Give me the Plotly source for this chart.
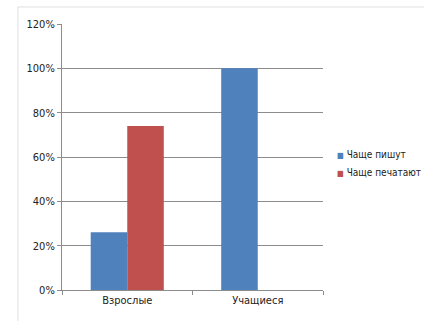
import plotly.graph_objects as go

categories = ["Взрослые", "Учащиеся"]
write_share = [26, 100]
type_share = [74, 0]
series_names = ["Чаще пишут", "Чаще печатают"]
series_colors = ["#4F81BD", "#C0504D"]
y_ticks = [0, 20, 40, 60, 80, 100, 120]
y_labels = [str(v) + "%" for v in y_ticks]

font_name = "DejaVu Sans Condensed, Liberation Sans Narrow, Liberation Sans, sans-serif"

fig = go.Figure()
for vals, name, col in zip([write_share, type_share], series_names, series_colors):
    fig.add_trace(go.Bar(x=categories, y=vals, name=name, showlegend=False,
                         marker=dict(color=col, line=dict(width=0))))

fig.update_layout(
    width=424, height=321,
    margin=dict(l=62, r=101, t=24, b=31, autoexpand=False),
    template="simple_white",
    barmode="group", bargap=0.44, bargroupgap=0,
    font=dict(family=font_name, size=11, color="#222222"),
    showlegend=False,
    plot_bgcolor="white", paper_bgcolor="white",
)
fig.update_yaxes(range=[0, 120], tickvals=y_ticks, ticktext=y_labels,
                 showgrid=True, gridcolor="#8c8c8c", gridwidth=1,
                 showline=True, linecolor="#8c8c8c", ticks="outside",
                 ticklen=4, tickcolor="#8c8c8c", zeroline=False)
fig.update_xaxes(showline=True, linecolor="#8c8c8c", ticks="outside",
                 tickson="boundaries", ticklen=4, tickcolor="#8c8c8c",
                 showgrid=False)

# legend keys as small coloured squares next to the series names
for i, (name, col) in enumerate(zip(series_names, series_colors)):
    fig.add_annotation(xref="paper", yref="paper", x=1.045, y=0.508 - i * 0.066,
                       xanchor="left", yanchor="middle", showarrow=False,
                       text='<span style="color:%s;font-size:8px">■</span> %s' % (col, name),
                       font=dict(size=10, color="#222222"))

# chart frame border (cropped on right and bottom)
fig.add_shape(type="line", xref="paper", yref="paper",
              x0=-0.169, x1=1.5, y0=1.064, y1=1.064,
              line=dict(color="#9a9a9a", width=1))
fig.add_shape(type="line", xref="paper", yref="paper",
              x0=-0.169, x1=-0.169, y0=1.064, y1=-0.2,
              line=dict(color="#9a9a9a", width=1))

# drop the default page margin/scrollbars so the figure fills the window exactly
fig.write_html("out.html", config={"displayModeBar": False},
               post_script="document.documentElement.style.overflow='hidden';"
                           "document.body.style.margin='0';document.body.style.overflow='hidden';")
